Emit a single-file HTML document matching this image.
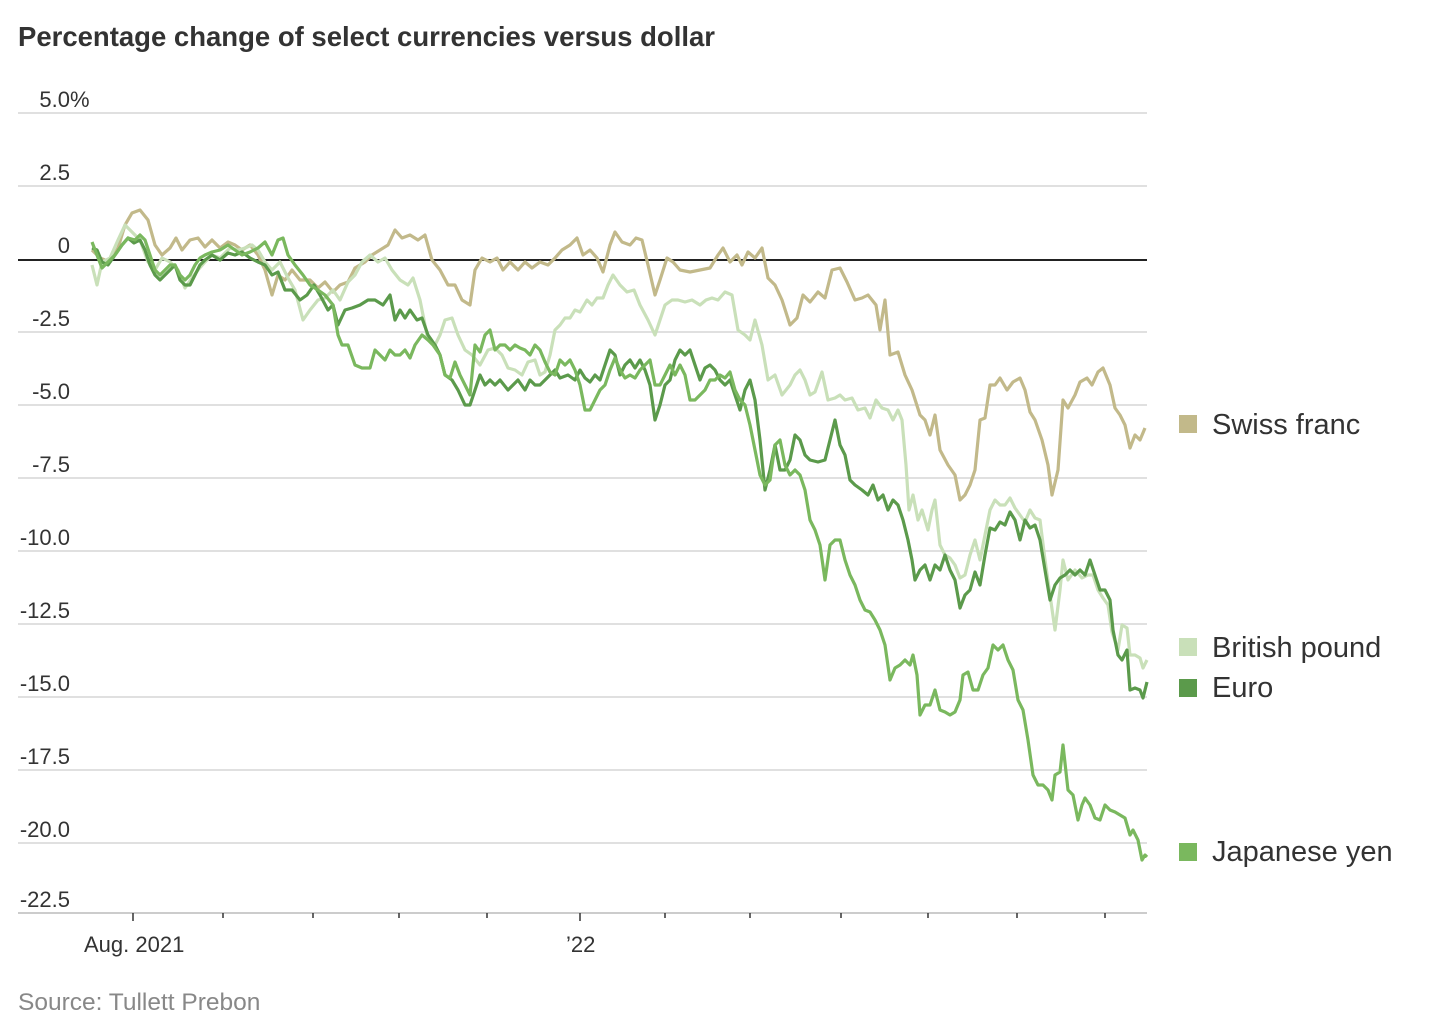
<!DOCTYPE html>
<html><head><meta charset="utf-8"><style>
html,body{margin:0;padding:0;background:#fff;}
svg{display:block;font-family:"Liberation Sans",sans-serif;}
</style></head><body>
<svg width="1434" height="1028" viewBox="0 0 1434 1028">
<text x="18" y="46" font-size="27.5" font-weight="bold" fill="#333">Percentage change of select currencies versus dollar</text>
<g stroke="#e0e0e0" stroke-width="2">
<line x1="18" x2="1147" y1="113" y2="113"/><line x1="18" x2="1147" y1="186" y2="186"/>
<line x1="18" x2="1147" y1="332" y2="332"/><line x1="18" x2="1147" y1="405" y2="405"/>
<line x1="18" x2="1147" y1="478" y2="478"/><line x1="18" x2="1147" y1="551" y2="551"/>
<line x1="18" x2="1147" y1="624" y2="624"/><line x1="18" x2="1147" y1="697" y2="697"/>
<line x1="18" x2="1147" y1="770" y2="770"/><line x1="18" x2="1147" y1="843" y2="843"/>
</g>
<line x1="18" x2="1147" y1="913" y2="913" stroke="#ccc" stroke-width="2"/>
<line x1="18" x2="1147" y1="260" y2="260" stroke="#222" stroke-width="2"/>
<g font-size="22" fill="#333" text-anchor="end">
<text x="70" y="107">5.0</text><text x="70" y="107" text-anchor="start">%</text>
<text x="70" y="180">2.5</text><text x="70" y="253">0</text>
<text x="70" y="326">-2.5</text><text x="70" y="399">-5.0</text>
<text x="70" y="472">-7.5</text><text x="70" y="545">-10.0</text>
<text x="70" y="618">-12.5</text><text x="70" y="691">-15.0</text>
<text x="70" y="764">-17.5</text><text x="70" y="837">-20.0</text>
<text x="70" y="907">-22.5</text>
</g>
<g stroke="#333" stroke-width="1.5">
<line x1="133" x2="133" y1="913" y2="921"/><line x1="223" x2="223" y1="913" y2="918"/>
<line x1="313" x2="313" y1="913" y2="918"/><line x1="399" x2="399" y1="913" y2="918"/>
<line x1="487" x2="487" y1="913" y2="918"/><line x1="580" x2="580" y1="913" y2="921"/>
<line x1="665" x2="665" y1="913" y2="918"/><line x1="750" x2="750" y1="913" y2="918"/>
<line x1="841" x2="841" y1="913" y2="918"/><line x1="928" x2="928" y1="913" y2="918"/>
<line x1="1017" x2="1017" y1="913" y2="918"/><line x1="1105" x2="1105" y1="913" y2="918"/>
</g>
<g font-size="22" fill="#333">
<text x="84" y="952">Aug. 2021</text><text x="566" y="952">’22</text>
</g>
<text x="18" y="1010" font-size="24.5" fill="#888">Source: Tullett Prebon</text>
<g fill="none" stroke-width="3.2" stroke-linejoin="round">
<polyline stroke="#c2b98a" points="92,250 100,258 110,262 118,248 125,225 132,213 140,210 148,220 155,245 162,255 170,248 176,238 182,250 190,240 198,238 205,247 212,240 220,248 228,242 235,245 242,250 250,245 258,255 265,270 272,295 278,275 285,280 292,270 300,280 310,280 318,288 325,282 333,292 340,285 348,282 355,268 365,262 372,255 380,250 388,245 395,230 402,238 410,235 418,240 425,235 432,260 440,270 448,285 455,285 462,300 470,305 475,270 482,258 490,262 497,258 503,270 510,262 518,270 525,262 532,268 540,262 548,265 555,258 562,250 570,245 577,238 583,255 590,250 597,258 603,272 610,245 615,232 622,242 630,245 636,238 642,240 648,265 655,295 660,280 667,258 673,262 680,270 690,272 700,270 710,268 718,255 723,248 730,262 737,255 742,265 748,252 755,258 762,248 768,278 775,285 782,300 790,325 797,318 803,295 810,302 818,292 825,298 832,270 840,268 847,282 855,300 862,298 868,295 876,305 880,330 885,300 890,355 898,352 905,375 912,390 920,415 925,420 930,435 935,415 940,450 948,465 955,475 960,500 965,495 970,485 975,470 980,420 985,418 990,385 995,385 1000,378 1007,390 1013,382 1020,378 1025,390 1030,412 1035,420 1042,440 1048,465 1052,495 1058,470 1063,400 1068,408 1075,395 1080,382 1087,378 1092,385 1098,372 1103,368 1110,385 1115,408 1120,415 1125,425 1130,448 1135,435 1140,440 1145,428"/>
<polyline stroke="#c9e0b9" points="92,265 97,285 102,262 110,258 118,240 125,225 132,232 140,240 148,262 155,270 162,258 170,262 178,270 185,288 192,278 198,270 205,262 212,255 220,258 230,248 238,250 245,248 252,245 258,250 265,262 272,270 280,262 288,278 295,290 303,320 310,310 318,300 325,298 333,290 340,300 348,282 355,275 362,262 370,255 378,262 385,258 392,270 400,280 408,285 413,278 420,300 428,340 435,345 440,335 445,320 452,318 458,335 465,350 472,355 480,365 488,350 495,348 502,355 508,368 515,370 522,375 528,362 535,360 540,375 545,372 550,355 555,330 560,325 565,318 570,318 575,310 580,312 587,300 592,305 597,298 603,298 608,285 613,275 620,285 627,292 634,290 640,305 648,320 655,335 660,320 665,305 672,300 678,300 685,302 692,300 700,305 706,300 712,298 718,300 725,292 732,295 738,330 745,335 750,340 755,320 762,345 768,380 775,375 782,395 790,385 795,375 800,370 805,380 810,395 815,392 822,372 828,400 835,398 840,395 845,400 852,398 858,410 865,408 870,418 876,400 882,408 888,410 893,420 898,410 902,420 906,465 909,510 913,495 918,520 922,510 928,530 932,510 935,500 940,545 945,555 950,558 955,565 960,578 965,575 970,555 975,540 980,560 985,535 990,510 995,500 1000,505 1005,505 1010,498 1015,508 1020,515 1025,522 1030,510 1035,518 1040,520 1045,560 1050,595 1055,630 1060,590 1063,560 1068,580 1075,570 1082,578 1088,575 1093,575 1098,590 1103,598 1108,605 1112,632 1118,650 1122,625 1127,628 1130,655 1135,655 1140,658 1143,668 1147,660"/>
<polyline stroke="#5b9a4b" points="92,248 97,250 102,262 108,265 115,255 122,245 128,238 134,243 140,240 145,250 150,265 155,275 160,280 165,275 170,270 175,265 180,280 185,285 190,285 195,275 200,265 205,260 212,255 220,260 228,253 235,255 242,252 250,258 258,262 265,265 272,275 278,272 285,290 292,290 300,300 307,295 314,285 320,295 328,310 333,305 338,325 345,310 352,308 360,305 368,300 375,300 383,305 390,295 395,320 400,310 405,318 410,310 417,320 422,318 428,335 435,345 440,355 445,375 452,380 458,390 465,405 470,405 475,390 480,375 485,385 490,380 495,385 500,380 508,390 513,385 518,380 525,390 530,380 535,385 540,385 545,380 550,375 555,370 560,378 568,375 575,380 580,370 585,378 590,382 595,375 600,380 605,365 610,350 615,355 620,375 625,365 630,360 635,368 640,360 645,370 650,385 655,420 660,405 665,385 670,380 675,360 680,350 685,355 690,350 695,365 700,380 705,368 710,365 715,370 720,380 725,385 730,380 735,395 740,410 745,390 750,380 755,400 760,440 765,490 770,470 775,445 780,470 785,470 790,460 795,435 800,440 805,455 810,460 818,462 825,460 830,440 835,420 840,445 845,455 850,480 855,485 862,490 868,495 873,485 878,500 883,495 888,510 893,500 898,505 903,520 908,540 912,560 915,580 920,570 925,565 930,580 935,565 940,570 945,555 950,570 955,580 960,608 965,595 970,590 975,572 980,585 985,555 990,528 995,530 1000,522 1005,525 1010,512 1015,520 1020,540 1025,520 1030,528 1035,525 1040,540 1045,570 1050,600 1055,585 1060,578 1065,575 1070,570 1075,575 1080,570 1085,575 1090,560 1095,575 1100,590 1105,590 1110,600 1113,630 1118,655 1122,660 1127,650 1130,690 1135,688 1140,690 1143,698 1147,682"/>
<polyline stroke="#7ab85e" points="92,242 97,255 102,268 108,262 115,255 122,245 128,238 135,240 140,235 145,240 150,255 155,270 160,275 165,270 170,265 175,265 180,275 185,280 190,275 195,265 200,258 205,255 212,252 220,250 228,245 235,250 242,255 250,252 258,248 265,242 272,255 278,240 283,238 288,255 295,265 303,275 310,285 318,290 325,295 333,305 338,335 342,345 348,345 355,365 362,368 370,368 375,350 380,355 385,360 390,350 395,355 400,355 405,350 410,358 415,345 422,335 428,340 433,345 440,355 445,375 450,378 455,362 460,375 465,385 470,395 475,345 480,352 485,335 490,330 495,350 500,345 505,345 510,350 515,345 520,348 525,350 530,355 535,345 540,350 545,362 550,372 555,375 560,360 565,365 570,360 575,370 580,385 585,410 590,410 595,400 600,390 605,385 610,370 615,358 620,370 625,378 630,375 635,378 640,370 645,365 650,360 655,385 660,385 665,375 670,365 675,375 680,365 685,375 690,400 695,400 700,395 705,390 710,380 715,380 720,375 725,378 730,372 735,390 740,400 745,405 750,425 755,450 760,475 765,485 770,480 775,445 780,440 785,465 790,475 795,470 800,475 805,490 810,520 815,530 820,545 825,580 830,545 835,540 840,540 845,560 850,575 855,585 860,600 865,610 870,612 875,620 880,630 885,645 890,680 895,668 900,665 905,660 910,665 913,655 917,675 920,715 925,705 930,705 935,690 940,710 945,712 950,715 955,712 960,700 963,675 968,672 973,690 978,690 983,675 988,668 993,645 998,650 1003,645 1008,660 1013,670 1018,700 1023,710 1028,740 1033,775 1038,785 1043,785 1048,790 1052,800 1055,775 1060,772 1063,745 1068,790 1073,795 1078,820 1082,805 1085,798 1090,805 1095,818 1100,820 1105,805 1110,810 1115,812 1120,815 1125,818 1130,835 1133,830 1138,840 1142,860 1145,855 1147,857"/>
</g>
<g font-size="29" fill="#333">
<rect x="1179" y="415" width="18" height="18" fill="#c2b98a"/><text x="1212" y="434">Swiss franc</text>
<rect x="1179" y="638" width="18" height="18" fill="#c9e0b9"/><text x="1212" y="657">British pound</text>
<rect x="1179" y="679" width="18" height="18" fill="#5b9a4b"/><text x="1212" y="697">Euro</text>
<rect x="1179" y="843" width="18" height="18" fill="#7ab85e"/><text x="1212" y="861">Japanese yen</text>
</g>
</svg>
</body></html>
